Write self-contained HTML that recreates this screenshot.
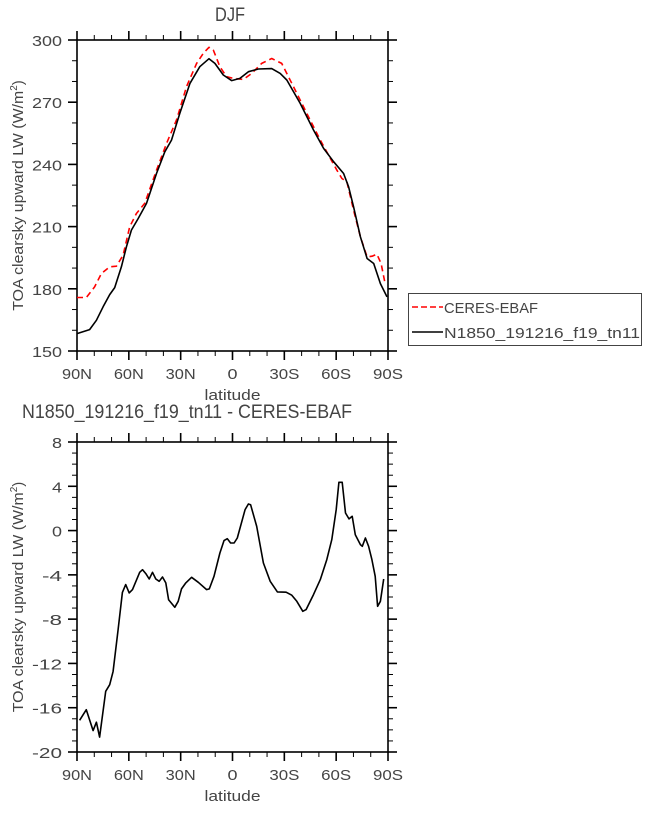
<!DOCTYPE html>
<html><head><meta charset="utf-8"><style>
html,body{margin:0;padding:0;background:#fff;}
svg text{font-family:"Liberation Sans",sans-serif;fill:#444;}
</style></head><body>
<svg id="c" width="648" height="808" xmlns="http://www.w3.org/2000/svg"></svg>
<script>
const latTicks = [90,60,30,0,-30,-60,-90];
const latLabels = ["90N","60N","30N","0","30S","60S","90S"];
const topTicks = [150,180,210,240,270,300];
const botTicks = [-20,-16,-12,-8,-4,0,4,8];
const modelLat = [90,82.7,78.8,74.9,71.1,68.2,64.3,61.4,58.5,54.6,49.8,44.0,39.2,35.3,30.5,24.6,18.9,13.6,10.2,5.3,0.5,-4.3,-9.2,-15.0,-22.7,-27.6,-31.4,-39.2,-46.9,-52.7,-58.5,-64.3,-67.2,-70.1,-74.0,-77.9,-81.7,-85.6,-89.4];
const modelVal = [158.4,160.3,164.8,171.3,177.2,180.6,190.6,200.2,208.3,213.9,221.2,235.6,246.1,251.7,264.6,279.1,287.1,291.0,288.7,283.1,280.4,281.5,284.7,286.0,286.2,283.9,280.7,269.4,256.6,247.7,241.3,235.6,229.2,219.5,205.1,194.6,192.2,182.5,176.1];
const obsLat = [90,84.6,79.8,75.9,71.1,67.2,63.3,59.5,55.6,50.8,44.0,38.2,32.4,26.6,20.8,16.9,13.6,11.1,7.3,3.4,-0.5,-6.3,-11.1,-16.9,-22.7,-28.5,-35.3,-43.0,-50.8,-56.6,-60.4,-63.3,-66.2,-70.1,-74.0,-77.9,-80.8,-83.6,-86.0,-88.3];
const obsVal = [175.8,175.8,180.9,187.4,190.6,190.9,196.2,209.9,216.3,221.2,237.2,250.1,261.4,277.5,288.7,293.6,296.5,295.2,287.1,282.3,281.5,281.0,283.9,288.7,291.1,288.7,277.5,264.6,251.7,242.9,237.2,233.2,231.6,217.9,205.1,195.4,195.7,196.7,192.2,182.5];
const diffLat = [88.5,84.6,80.7,78.8,76.9,73.4,71.1,69.1,66.2,63.7,61.8,59.8,57.9,53.7,52.1,50.2,48.2,46.3,44.4,42.4,40.5,38.6,37.0,33.4,31.4,29.5,27.0,23.7,19.8,15.0,13.4,10.7,7.3,4.9,3.0,1.1,-0.9,-2.8,-7.3,-9.2,-10.5,-14.0,-17.9,-21.8,-26.0,-31.0,-34.3,-37.2,-40.7,-42.6,-46.9,-50.8,-54.6,-57.5,-60.0,-61.6,-63.5,-65.4,-67.4,-69.3,-71.1,-74.0,-75.1,-76.9,-78.8,-80.7,-82.6,-84.0,-85.6,-87.5];
const diffVal = [-17.14,-16.18,-18.07,-17.31,-18.65,-14.52,-13.92,-12.72,-8.95,-5.58,-4.88,-5.63,-5.33,-3.77,-3.53,-3.89,-4.37,-3.77,-4.37,-4.58,-4.19,-4.73,-6.24,-6.93,-6.39,-5.27,-4.73,-4.22,-4.67,-5.33,-5.27,-4.13,-2.03,-0.91,-0.73,-1.12,-1.12,-0.67,1.89,2.40,2.34,0.38,-2.93,-4.58,-5.54,-5.57,-5.84,-6.39,-7.29,-7.14,-5.78,-4.43,-2.62,-0.82,1.89,4.36,4.36,1.59,1.05,1.29,-0.37,-1.27,-1.42,-0.67,-1.42,-2.62,-4.13,-6.84,-6.39,-4.37];

const svg=document.getElementById('c');
const NS='http://www.w3.org/2000/svg';
function el(t,a,p){const e=document.createElementNS(NS,t);for(const k in a)e.setAttribute(k,a[k]);(p||svg).appendChild(e);return e;}
const L=77,R=388;
const xs=u=>L+(90-u)/180*(R-L);
const CW=10; // approx char width px

function panel(T,B,ymin,ymax,ticks,minorStep,name){
  const g=el('g',{});
  
  
  const ys=v=>B-(v-ymin)/(ymax-ymin)*(B-T);
  for(let u=90;u>=-90;u-=10){const x=xs(u);const maj=(u%30===0);const len=maj?9:5;
    el('line',{x1:x,x2:x,y1:B,y2:B+len,stroke:'#000','stroke-width':maj?1.6:1},g);
    el('line',{x1:x,x2:x,y1:T,y2:T-len,stroke:'#000','stroke-width':maj?1.6:1},g);}
  for(let v=ymin;v<=ymax+1e-9;v+=minorStep){const y=ys(v);const maj=ticks.includes(Math.round(v));const len=maj?9:5;
    el('line',{x1:L,x2:L-len,y1:y,y2:y,stroke:'#000','stroke-width':maj?1.6:1},g);
    el('line',{x1:R,x2:R+len,y1:y,y2:y,stroke:'#000','stroke-width':maj?1.6:1},g);}
  ticks.forEach(v=>{const s=String(v);const t=el('text',{x:62,y:ys(v)+6,'text-anchor':'end','font-size':15,textLength:s.length*CW,lengthAdjust:'spacingAndGlyphs'},g);t.textContent=s;
    
    });
  latTicks.forEach((u,i)=>{const s=latLabels[i];const t=el('text',{x:xs(u),y:B+28,'text-anchor':'middle','font-size':15,textLength:s.length*CW,lengthAdjust:'spacingAndGlyphs'},g);t.textContent=s;
    
    });
  el('rect',{x:L,y:T,width:R-L,height:B-T,fill:'none',stroke:'#000','stroke-width':1.6},g);
  const xl=el('text',{x:(L+R)/2,y:B+49,'text-anchor':'middle','font-size':15,textLength:56,lengthAdjust:'spacingAndGlyphs'},g);xl.textContent='latitude';
  
  
  const cy=(T+B)/2;
  const yl=el('text',{x:23,y:cy,'text-anchor':'middle','font-size':15,transform:`rotate(-90 23 ${cy})`},g);
  yl.innerHTML='<tspan textLength="220" lengthAdjust="spacingAndGlyphs">TOA clearsky upward LW (W/m</tspan><tspan dy="-6" font-size="10">2</tspan><tspan dy="6">)</tspan>';
  
  
  return ys;
}
function line(lat,val,ys,stroke,dash,name){
  const pts=lat.map((u,i)=>xs(u).toFixed(1)+','+ys(val[i]).toFixed(1)).join(' ');
  const p=el('polyline',{points:pts,fill:'none',stroke:stroke,'stroke-width':1.6,'stroke-linejoin':'round'});
  if(dash)p.setAttribute('stroke-dasharray',dash);
  
  
}
const ys1=panel(40,351,150,300,topTicks,10,'top-panel');
line(obsLat,obsVal,ys1,'#f00','6,4','ceres-ebaf-line');
line(modelLat,modelVal,ys1,'#000',null,'model-line');
const ys2=panel(442,752,-20,8,botTicks,1,'bottom-panel');
line(diffLat,diffVal,ys2,'#000',null,'difference-line');

const t1=el('text',{x:230,y:21,'text-anchor':'middle','font-size':19,textLength:30,lengthAdjust:'spacingAndGlyphs'});t1.textContent='DJF';


const t2=el('text',{x:22,y:418,'font-size':19,textLength:330,lengthAdjust:'spacingAndGlyphs'});t2.textContent='N1850_191216_f19_tn11 - CERES-EBAF';



const lg=el('g',{});


el('rect',{x:408.5,y:293.5,width:233,height:52,fill:'#fff',stroke:'#444','stroke-width':1},lg);
el('line',{x1:412,x2:443,y1:307,y2:307,stroke:'#f00','stroke-width':1.6,'stroke-dasharray':'6,3'},lg);
el('line',{x1:412,x2:443,y1:332,y2:332,stroke:'#000','stroke-width':1.6},lg);
const l1=el('text',{x:444,y:313,'font-size':15,textLength:94,lengthAdjust:'spacingAndGlyphs'},lg);l1.textContent='CERES-EBAF';


const l2=el('text',{x:444,y:338,'font-size':15,textLength:196,lengthAdjust:'spacingAndGlyphs'},lg);l2.textContent='N1850_191216_f19_tn11';


</script>
</body></html>
